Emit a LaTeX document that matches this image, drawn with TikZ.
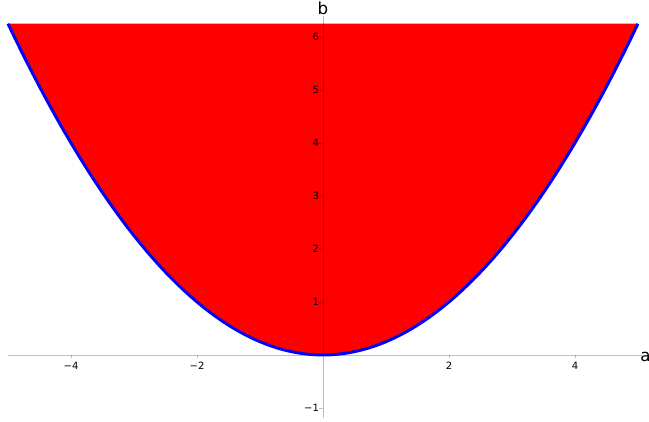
\documentclass[tikz,border=0pt]{standalone}
\usepackage{fontspec}
\setmainfont{DejaVu Sans}
\begin{document}
\begin{tikzpicture}[x=47.25pt,y=39.75pt,
  axis/.style={draw=black,draw opacity=0.25,line width=0.6pt},
  ticklab/.style={font=\fontsize{7.5}{8}\selectfont,text=black,inner sep=1pt},
  axlab/.style={font=\fontsize{12.5}{13}\selectfont,inner sep=0pt}]
\useasboundingbox (-5.127,-1.264) rectangle (5.175,6.698);
% region
\fill[red] (-5,6.25) -- plot[domain=-5:5,samples=101] (\x,{\x*\x/4}) -- (5,6.25) -- cycle;
% axes
\draw[axis] (-5,0) -- (5.06,0);
\draw[axis] (0,-1.19) -- (0,6.4);
% ticks
\foreach \t/\l in {-4/{−4},-2/{−2},2/2,4/4}{
  \draw[axis] (\t,0) -- (\t,-0.05);
  \node[ticklab,anchor=north] (xt\t) at (\t,-0.1) {\l};
}
\foreach \t/\l in {-1/{−1},1/1,2/2,3/3,4/4,5/5,6/6}{
  \draw[axis] (0,\t) -- (-0.06,\t);
  \node[ticklab,anchor=east] (yt\t) at (-0.04,\t) {\l};
}
% curve
\draw[blue,line width=2.2pt] plot[domain=-5:5,samples=101] (\x,{\x*\x/4});
% axis labels
\node[axlab] (alab) at (5.12,-0.04) {a};
\node[axlab] (blab) at (0,6.55) {b};
\end{tikzpicture}
\end{document}
